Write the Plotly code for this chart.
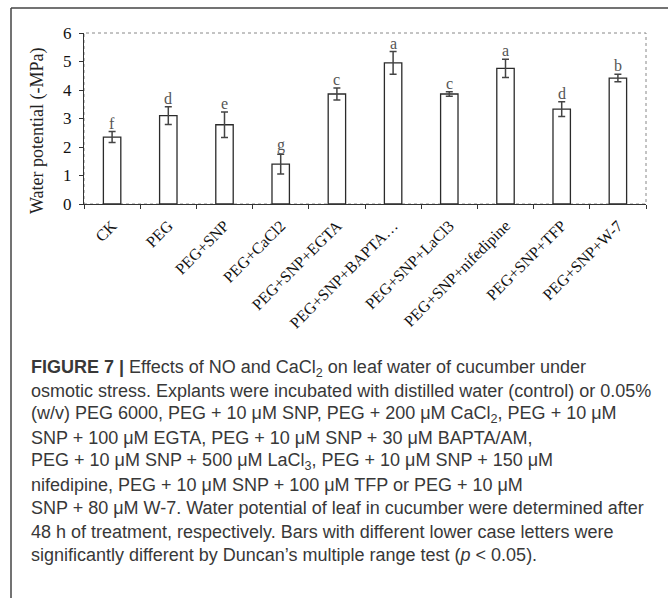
import plotly.graph_objects as go

categories = ["CK", "PEG", "PEG+SNP", "PEG+CaCl2", "PEG+SNP+EGTA", "PEG+SNP+BAPTA…",
              "PEG+SNP+LaCl3", "PEG+SNP+nifedipine", "PEG+SNP+TFP", "PEG+SNP+W-7"]
values = [2.35, 3.10, 2.78, 1.40, 3.86, 4.95, 3.86, 4.76, 3.33, 4.42]
errors = [0.19, 0.31, 0.45, 0.35, 0.21, 0.40, 0.08, 0.32, 0.26, 0.13]
letters = ["f", "d", "e", "g", "c", "a", "c", "a", "d", "b"]
y_ticks = [0, 1, 2, 3, 4, 5, 6]

caption_lines = [
    "<b>FIGURE 7 |</b> Effects of NO and CaCl<sub>2</sub> on leaf water of cucumber under",
    "osmotic stress. Explants were incubated with distilled water (control) or 0.05%",
    "(w/v) PEG 6000, PEG + 10 μM SNP, PEG + 200 μM CaCl<sub>2</sub>, PEG + 10 μM",
    "SNP + 100 μM EGTA, PEG + 10 μM SNP + 30 μM BAPTA/AM,",
    "PEG + 10 μM SNP + 500 μM LaCl<sub>3</sub>, PEG + 10 μM SNP + 150 μM",
    "nifedipine, PEG + 10 μM SNP + 100 μM TFP or PEG + 10 μM",
    "SNP + 80 μM W-7. Water potential of leaf in cucumber were determined after",
    "48 h of treatment, respectively. Bars with different lower case letters were",
    "significantly different by Duncan’s multiple range test (<i>p</i> &lt; 0.05).",
]

W, H = 668, 598
serif = "Liberation Serif, Times New Roman, serif"
sans = "Liberation Sans, Arial, sans-serif"

fig = go.Figure()
fig.add_trace(go.Bar(
    x=categories, y=values,
    marker=dict(color="white", line=dict(color="#2b2b2b", width=1.3)),
    error_y=dict(type="data", array=errors, visible=True, color="#444444",
                 thickness=1.5, width=3.5),
    width=0.31,
    showlegend=False,
))

annotations = []
for c, v, e, l in zip(categories, values, errors, letters):
    annotations.append(dict(x=c, y=v + e, xref="x", yref="y", text=l, showarrow=False,
                            yanchor="bottom", yshift=-2,
                            font=dict(family=serif, size=16, color="#555555")))

annotations.append(dict(x=38 / W, y=1 - 131 / H, xref="paper", yref="paper",
                        text="Water potential (-MPa)", textangle=-90, showarrow=False,
                        xanchor="center", yanchor="middle",
                        font=dict(family=serif, size=18, color="#222222")))

y0 = 368
for i, line in enumerate(caption_lines):
    annotations.append(dict(x=29 / W, y=1 - (y0 + i * 23.4) / H, xref="paper", yref="paper",
                            text=line, showarrow=False, xanchor="left", yanchor="middle",
                            align="left",
                            font=dict(family=sans, size=18, color="#383838")))

shapes = [
    dict(type="line", xref="paper", yref="paper", x0=11 / W, x1=1.0, y0=1 - 8 / H, y1=1 - 8 / H,
         line=dict(color="#444444", width=1.5)),
    dict(type="line", xref="paper", yref="paper", x0=11 / W, x1=11 / W, y0=0, y1=1 - 8 / H,
         line=dict(color="#444444", width=1.5)),
    dict(type="rect", xref="x domain", yref="y domain", x0=0, x1=1, y0=0, y1=1,
         line=dict(color="#888888", width=1, dash="dot"), layer="below"),
]

fig.update_layout(
    width=W, height=H,
    margin=dict(l=0, r=0, t=0, b=0, autoexpand=False),
    paper_bgcolor="white", plot_bgcolor="white",
    annotations=annotations, shapes=shapes,
    xaxis=dict(domain=[84 / W, 646 / W], type="category", tickangle=-45, automargin=False,
               showline=True, linecolor="#333333", linewidth=1.3,
               ticks="outside", tickson="boundaries", ticklen=4, tickcolor="#333333",
               ticklabelstandoff=5,
               tickfont=dict(family=serif, size=16, color="#111111"),
               showgrid=False, zeroline=False),
    yaxis=dict(domain=[1 - 204 / H, 1 - 33 / H], range=[0, 6], tickvals=y_ticks, automargin=False,
               showline=True, linecolor="#333333", linewidth=1.3,
               ticks="outside", ticklen=4, tickcolor="#333333",
               ticklabelstandoff=4,
               tickfont=dict(family=serif, size=17, color="#111111"),
               showgrid=False, zeroline=False),
)

fig.write_html("out.html")
